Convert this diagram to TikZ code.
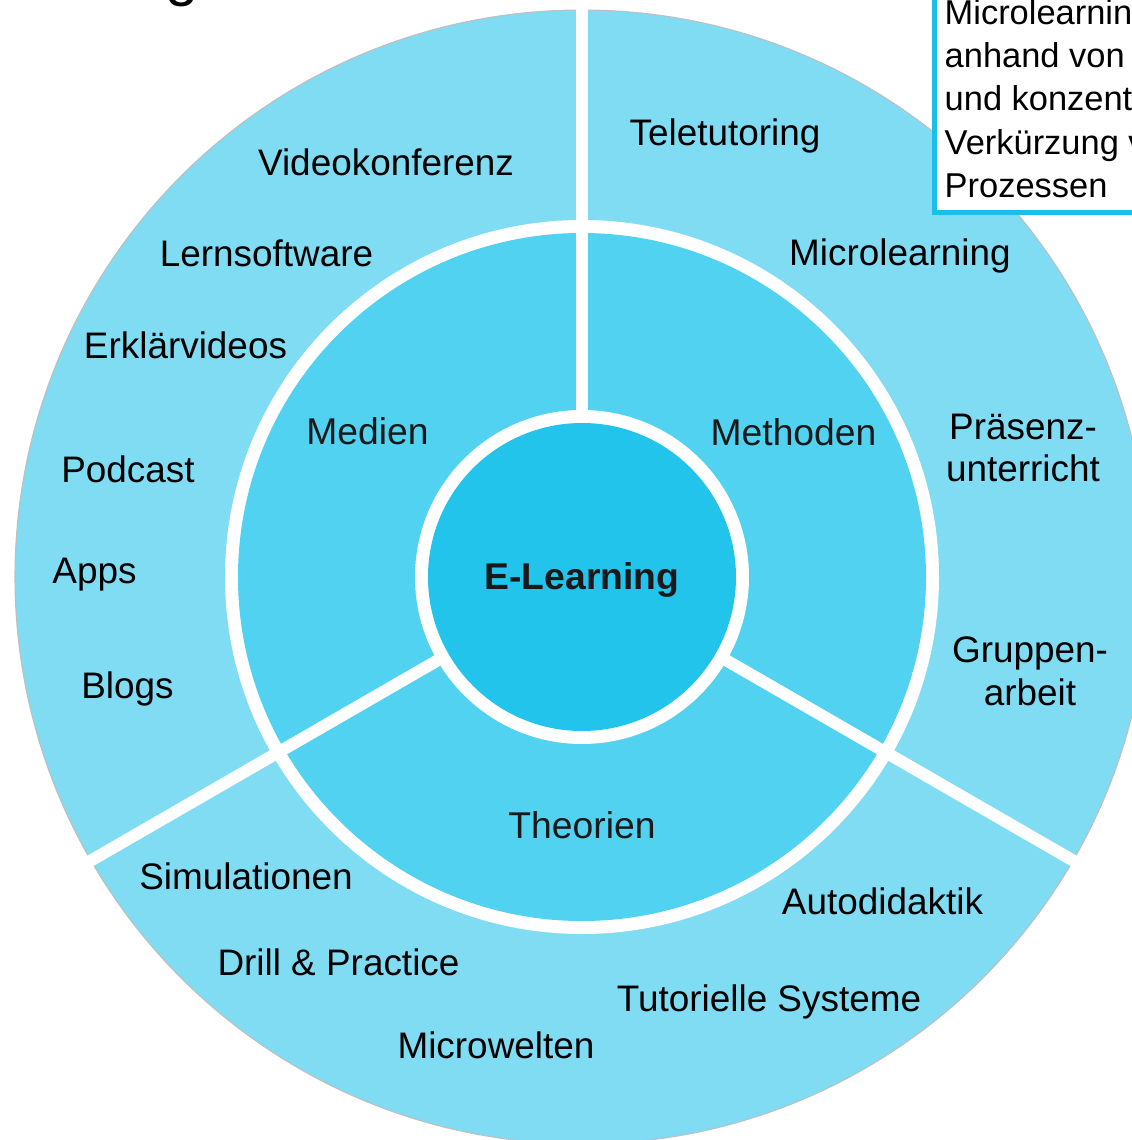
\documentclass[tikz,border=0pt]{standalone}
\usepackage{fontspec}
\setmainfont{Liberation Sans}
\definecolor{ringouter}{RGB}{127, 220, 243}
\definecolor{ringmid}{RGB}{80, 210, 240}
\definecolor{ringcore}{RGB}{34, 196, 236}
\definecolor{noteblue}{RGB}{27, 190, 234}

\begin{document}
\begin{tikzpicture}[
  item/.style={anchor=base, inner sep=0pt, font=\fontsize{10.5}{12.2}\selectfont},
  twoline/.style={anchor=center, align=center, inner sep=0pt, font=\fontsize{10.5}{12.2}\selectfont},
  area/.style={anchor=base, inner sep=0pt, black!90, font=\fontsize{10.6}{12.2}\selectfont},
  noteline/.style={anchor=base west, inner sep=0pt, font=\fontsize{9.8}{12}\selectfont}
]
  \useasboundingbox (-5.82,-5.63) rectangle (5.50,5.77);
  \clip (-5.82,-5.63) rectangle (5.50,5.77);

  % heading, only its descender reaches down here
  \node[anchor=base, inner sep=0pt, font=\fontsize{17}{20}\selectfont] (heading) at (-4.0, 5.82) {g};

  % rings
  \fill[ringouter] (0,0) circle (5.67);
  \draw[black!25, line width=0.3pt] (0,0) circle (5.67);
  \fill[white] (0,0) circle (3.57);
  \fill[ringmid] (0,0) circle (3.44);
  \fill[white] (0,0) circle (1.67);
  \fill[ringcore] (0,0) circle (1.54);

  % spokes between the three sectors
  \foreach \a in {90, 210, 330}
    \draw[white, line width=0.12cm] (\a:1.6) -- (\a:5.75);

  % core and sectors
  \node[area, font=\fontsize{10.6}{12.2}\selectfont\bfseries] (elearn) at (0, -0.13) {E-Learning};
  \node[area] (medien) at (-2.145, 1.32) {Medien};
  \node[area] (methoden) at (2.115, 1.31) {Methoden};
  \node[area] (theorien) at (0, -2.62) {Theorien};

  % Medien
  \node[item] (vidkonf) at (-1.96, 4.01) {Videokonferenz};
  \node[item] (lernsw) at (-3.155, 3.10) {Lernsoftware};
  \node[item] (erklaer) at (-3.965, 2.18) {Erklärvideos};
  \node[item] (podcast) at (-4.54, 0.94) {Podcast};
  \node[item] (apps) at (-4.875, -0.07) {Apps};
  \node[item] (blogs) at (-4.545, -1.21) {Blogs};

  % Methoden
  \node[item] (teletut) at (1.43, 4.315) {Teletutoring};
  \node[item] (microl) at (3.18, 3.11) {Microlearning};
  \node[twoline] (praesenz) at (4.41, 1.29) {Präsenz-\\unterricht};
  \node[twoline] (gruppe) at (4.48, -0.94) {Gruppen-\\arbeit};

  % Theorien
  \node[item] (simul) at (-3.36, -3.12) {Simulationen};
  \node[item] (autodid) at (3.005, -3.37) {Autodidaktik};
  \node[item] (drill) at (-2.435, -3.98) {Drill \& Practice};
  \node[item] (tutsys) at (1.87, -4.34) {Tutorielle Systeme};
  \node[item] (microw) at (-0.86, -4.81) {Microwelten};

  % note box, top right
  \draw[noteblue, line width=0.05cm, fill=white] (3.52,3.64) rectangle (6.2,6.2);
  \foreach \txt [count=\i] in {Microlearnin, anhand von, und konzent, Verkürzung v, Prozessen}
    \node[noteline] (note\i) at (3.62, {5.96-0.433*\i}) {\txt};
\end{tikzpicture}
\end{document}
